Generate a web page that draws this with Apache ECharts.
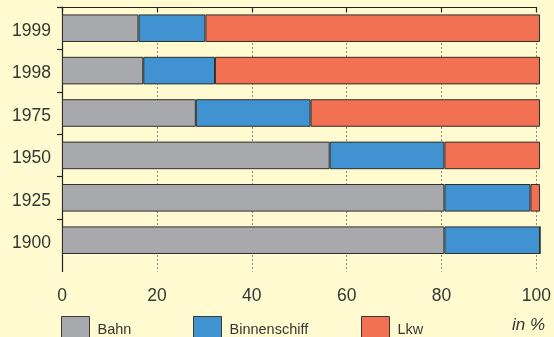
<!DOCTYPE html>
<html>
<head>
<meta charset="utf-8">
<script src="https://cdn.jsdelivr.net/npm/echarts@6/dist/echarts.min.js"></script>
<style>
  html, body { margin: 0; padding: 0; background: #FFFACF; }
  #chart { width: 554px; height: 337px; }
</style>
</head>
<body>
<div id="chart"></div>
<script>
// Modal split of freight transport, shares in percent
const years = ['1900', '1925', '1950', '1975', '1998', '1999'];
const bahn = [80, 80, 56, 28, 17, 16];
const binnenschiff = [20, 18, 24, 24, 15, 14];
const lkw = [0, 2, 20, 48, 68, 70];
const xTicks = [0, 20, 40, 60, 80, 100];

const seriesNames = ['Bahn', 'Binnenschiff', 'Lkw'];
const seriesColors = ['#A8A9AD', '#4093D0', '#F27153'];
const seriesValues = [bahn, binnenschiff, lkw];

const textColor = '#363636';
const fontFamily = '"Liberation Sans", Arial, sans-serif';

const chart = echarts.init(document.getElementById('chart'), null, { renderer: 'canvas' });

const bandCount = years.length;
const bandHeight = 42.4;
const plotTop = 7;
const plotBottom = 271.5;

chart.setOption({
  backgroundColor: '#FFFACF',
  animation: false,
  title: {
    text: 'in %',
    left: 512,
    top: 317,
    padding: 0,
    textStyle: {
      fontFamily: fontFamily,
      fontStyle: 'italic',
      fontWeight: 'normal',
      fontSize: 17,
      color: textColor
    }
  },
  legend: seriesNames.map((name, i) => ({
    data: [name],
    left: [61, 193, 361][i],
    top: 316,
    padding: 0,
    itemWidth: 28,
    itemHeight: 21,
    icon: 'rect',
    selectedMode: false,
    itemStyle: { borderColor: '#3a3a3a', borderWidth: 1 },
    formatter: '{t|{name}}',
    textStyle: {
      fontFamily: fontFamily,
      fontSize: 14.5,
      color: textColor,
      rich: {
        t: {
          fontFamily: fontFamily,
          fontSize: 14.5,
          color: textColor,
          padding: [6, 0, 0, 3]
        }
      }
    }
  })),
  grid: [
    // bars
    { left: 62, right: 14, top: plotTop, height: bandHeight * bandCount },
    // axis frame: full-height left line and bottom value axis
    { left: 62, right: 14, top: plotTop, height: plotBottom - plotTop }
  ],
  xAxis: [
    {
      gridIndex: 0, type: 'value', min: 0, max: 100, interval: 20,
      show: false
    },
    {
      gridIndex: 1, type: 'value', min: 0, max: 100, interval: 20,
      axisLine: { show: true, lineStyle: { color: '#222', width: 1.2 } },
      axisTick: { show: true, length: 5, lineStyle: { color: '#222', width: 1.2 } },
      axisLabel: {
        margin: 16,
        fontFamily: fontFamily,
        fontSize: 17.5,
        color: textColor,
        customValues: xTicks
      },
      splitLine: {
        show: true,
        lineStyle: { color: '#8a8a80', type: [2, 2], width: 1 }
      }
    }
  ],
  yAxis: [
    {
      gridIndex: 0, type: 'category', data: years, inverse: false,
      axisLine: { show: false },
      axisTick: { show: false },
      axisLabel: {
        margin: 11,
        formatter: '{y|{value}}',
        rich: {
          y: {
            fontFamily: fontFamily,
            fontSize: 17.5,
            color: textColor,
            padding: [6, 0, 0, 0]
          }
        }
      }
    },
    {
      gridIndex: 1, type: 'value', inverse: true,
      min: 0, max: (plotBottom - plotTop) / bandHeight, interval: 1,
      axisLine: { show: true, lineStyle: { color: '#222', width: 1.2 } },
      axisTick: {
        show: true, length: 5,
        lineStyle: { color: '#222', width: 1.2 },
        customValues: [0, 1, 2, 3, 4, 5]
      },
      axisLabel: { show: false },
      splitLine: { show: false }
    }
  ],
  series: seriesNames.map((name, i) => ({
    name: name,
    type: 'bar',
    stack: 'share',
    xAxisIndex: 0,
    yAxisIndex: 0,
    barWidth: '65%',
    data: seriesValues[i],
    itemStyle: {
      color: seriesColors[i],
      borderColor: '#2e2e2e',
      borderWidth: 1
    }
  }))
});
</script>
</body>
</html>
